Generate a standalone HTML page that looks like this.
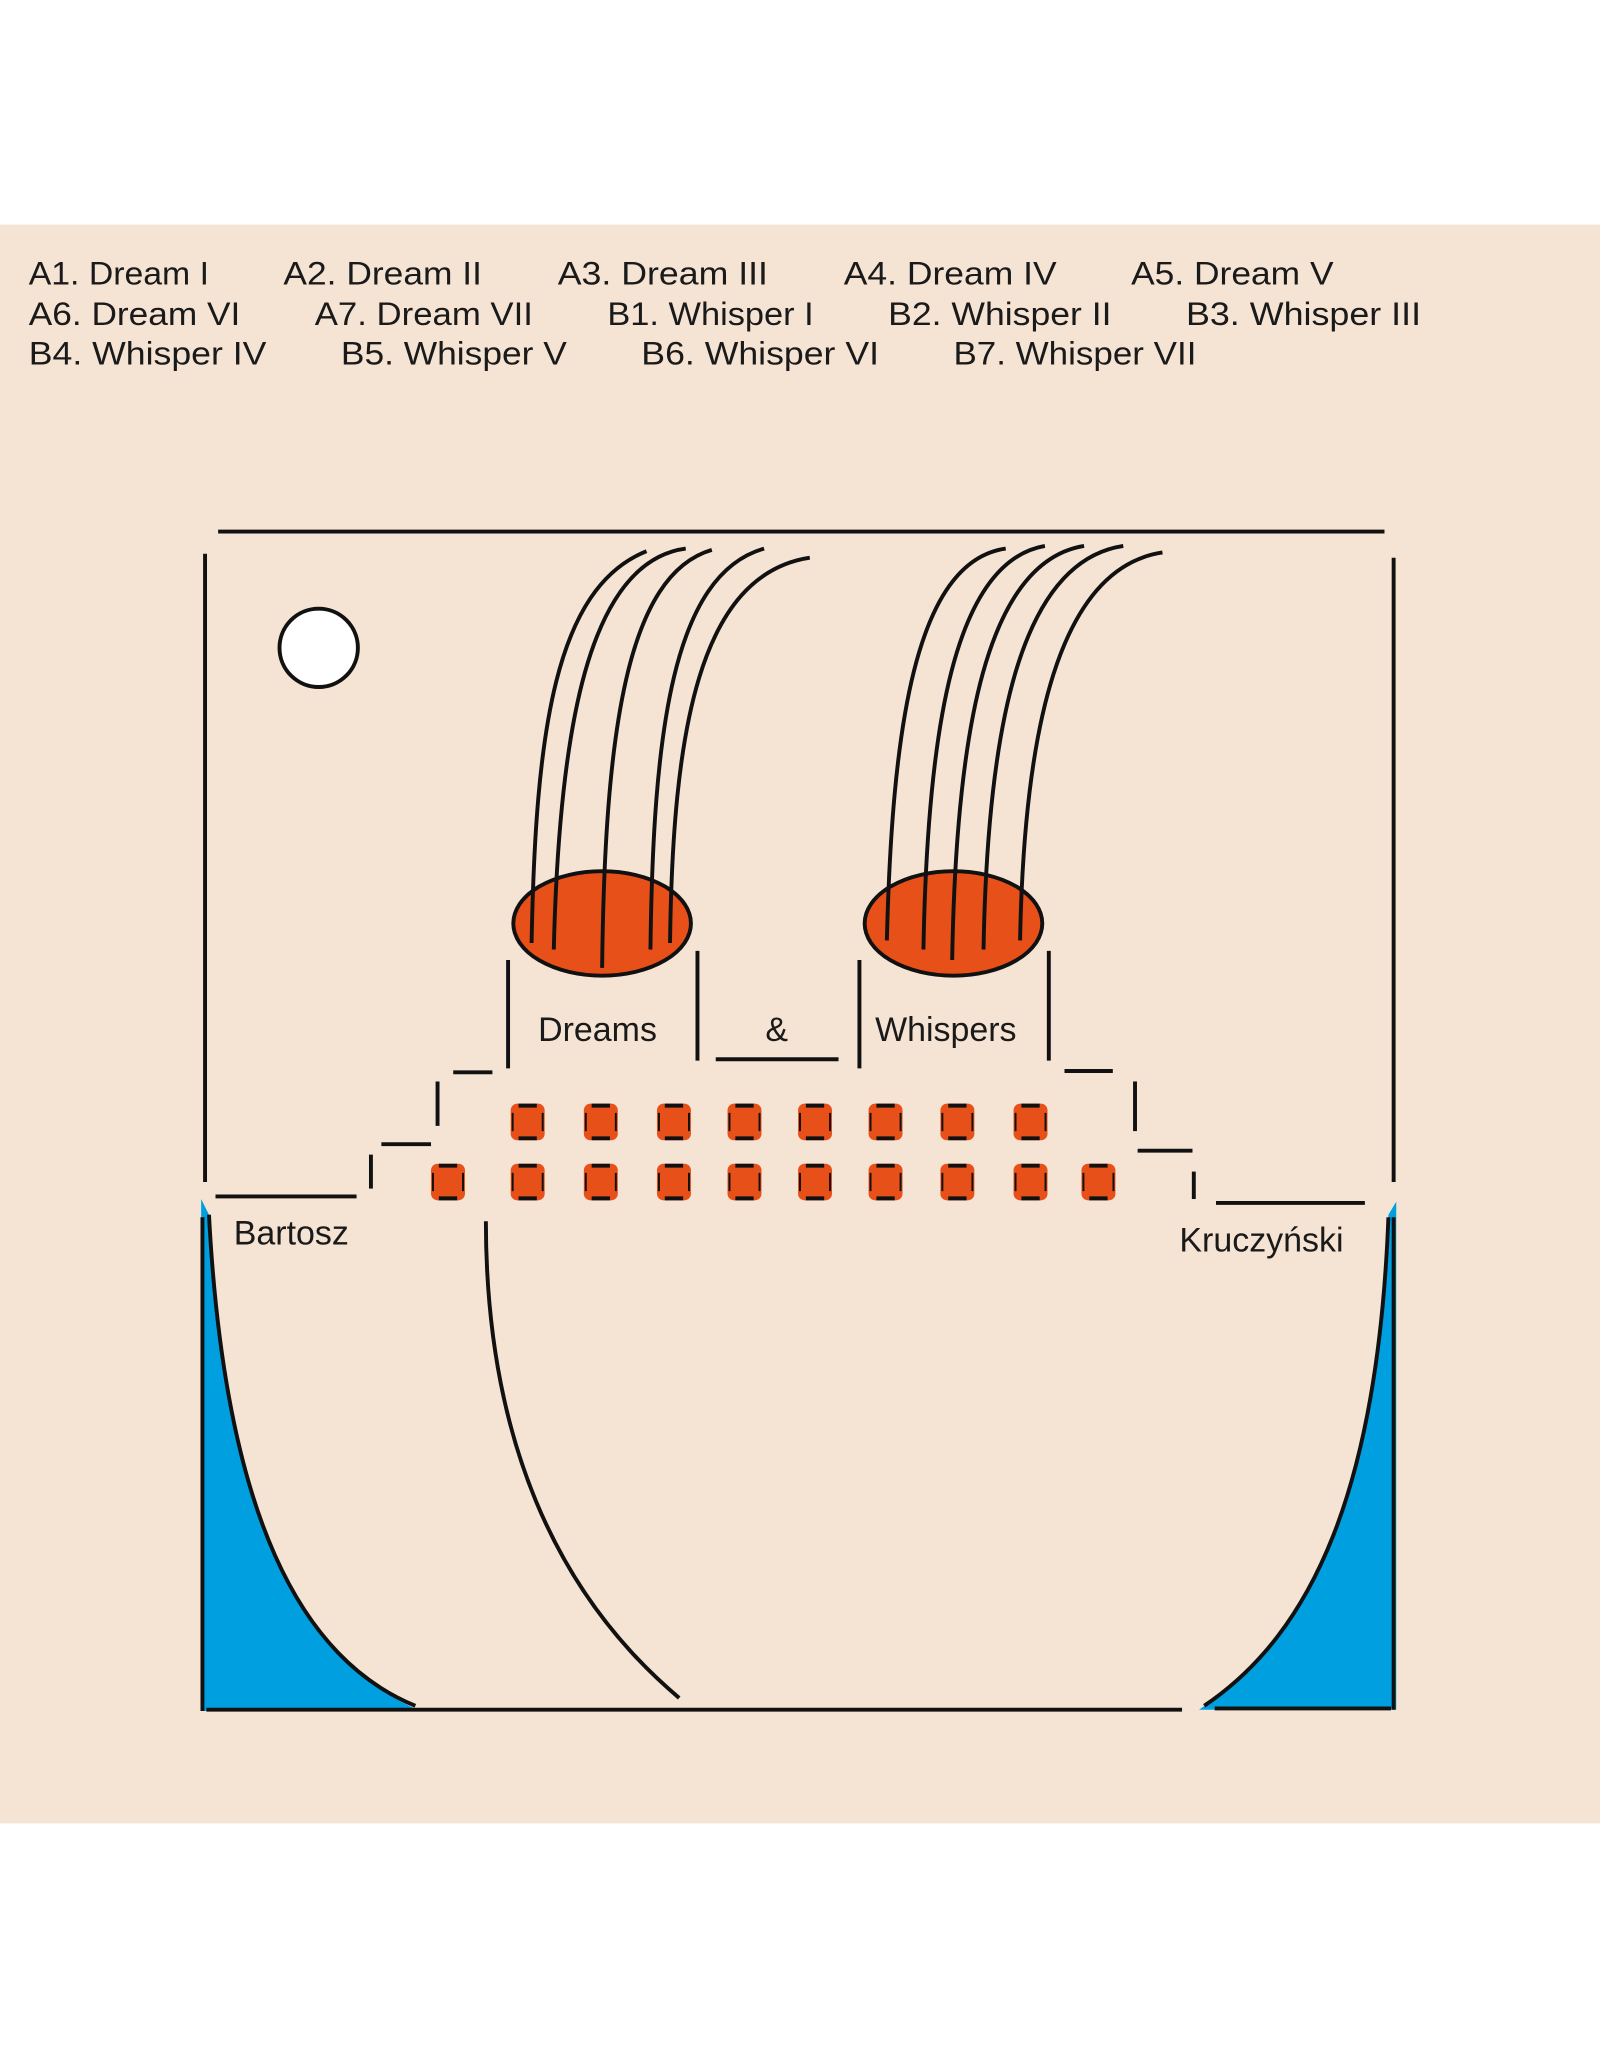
<!DOCTYPE html>
<html><head><meta charset="utf-8"><style>
html,body{margin:0;padding:0;background:#fff;}
svg{display:block;}
text{font-family:"Liberation Sans",sans-serif;fill:#1a1a1a;}
</style></head><body>
<svg width="1600" height="2048" viewBox="0 0 1225 1568" xmlns="http://www.w3.org/2000/svg">
<defs>
<g id="sq">
<rect x="0" y="0" width="26" height="28" rx="5" fill="#e8501a"/>
<path d="M6,1.5h14 M6,26.5h14" stroke="#111" stroke-width="3"/>
<path d="M1.5,7v14 M24.5,7v14" stroke="#111" stroke-width="1.5"/>
</g>
</defs>
<rect x="0" y="0" width="1225" height="1568" fill="#fff"/>
<rect x="0" y="172" width="1225" height="1224" fill="#f5e4d4"/>
<g font-size="25">
<text x="22" y="218" textLength="138" lengthAdjust="spacingAndGlyphs">A1. Dream I</text>
<text x="217" y="218" textLength="152" lengthAdjust="spacingAndGlyphs">A2. Dream II</text>
<text x="427" y="218" textLength="161" lengthAdjust="spacingAndGlyphs">A3. Dream III</text>
<text x="646" y="218" textLength="163" lengthAdjust="spacingAndGlyphs">A4. Dream IV</text>
<text x="866" y="218" textLength="155" lengthAdjust="spacingAndGlyphs">A5. Dream V</text>
<text x="22" y="249" textLength="162" lengthAdjust="spacingAndGlyphs">A6. Dream VI</text>
<text x="241" y="249" textLength="167" lengthAdjust="spacingAndGlyphs">A7. Dream VII</text>
<text x="465" y="249" textLength="158" lengthAdjust="spacingAndGlyphs">B1. Whisper I</text>
<text x="680" y="249" textLength="171" lengthAdjust="spacingAndGlyphs">B2. Whisper II</text>
<text x="908" y="249" textLength="180" lengthAdjust="spacingAndGlyphs">B3. Whisper III</text>
<text x="22" y="279" textLength="182" lengthAdjust="spacingAndGlyphs">B4. Whisper IV</text>
<text x="261" y="279" textLength="173" lengthAdjust="spacingAndGlyphs">B5. Whisper V</text>
<text x="491" y="279" textLength="182" lengthAdjust="spacingAndGlyphs">B6. Whisper VI</text>
<text x="730" y="279" textLength="186" lengthAdjust="spacingAndGlyphs">B7. Whisper VII</text>
</g>
<g stroke="#111" stroke-width="3" fill="none" stroke-linecap="butt">
<line x1="167" y1="407" x2="1060" y2="407"/>
<line x1="157" y1="424" x2="157" y2="905"/>
<line x1="1067" y1="427" x2="1067" y2="905"/>
<line x1="165" y1="916" x2="273" y2="916"/>
<line x1="284" y1="884" x2="284" y2="910"/>
<line x1="292" y1="876" x2="330" y2="876"/>
<line x1="335" y1="828" x2="335" y2="862"/>
<line x1="347" y1="821" x2="377" y2="821"/>
<line x1="389" y1="735" x2="389" y2="818"/>
<line x1="534" y1="728" x2="534" y2="812"/>
<line x1="548" y1="811" x2="642" y2="811"/>
<line x1="658" y1="735" x2="658" y2="818"/>
<line x1="803" y1="728" x2="803" y2="812"/>
<line x1="815" y1="820" x2="852" y2="820"/>
<line x1="869" y1="828" x2="869" y2="866"/>
<line x1="871" y1="881" x2="913" y2="881"/>
<line x1="914" y1="897" x2="914" y2="918"/>
<line x1="931" y1="921" x2="1045" y2="921"/>
</g>
<circle cx="244" cy="496" r="30" fill="#fff" stroke="#111" stroke-width="3"/>
<path d="M154,918 L154,1310 L322,1310 C230,1270 172,1160 160,930 Z" fill="#009fe0"/>
<path d="M1069,920 L1069,1309 L918,1309 C1005,1250 1055,1140 1063,930 Z" fill="#009fe0"/>
<g stroke="#111" stroke-width="3" fill="none">
<line x1="155" y1="932" x2="155" y2="1310"/>
<line x1="1067" y1="932" x2="1067" y2="1309"/>
<path d="M160,930 C172,1160 230,1270 318,1306"/>
<path d="M1063,932 C1055,1140 1005,1250 922,1306"/>
<line x1="158" y1="1309" x2="905" y2="1309"/>
<line x1="930" y1="1308" x2="1065" y2="1308"/>
<path d="M372,935 C372,1100 425,1220 520,1300"/>
</g>
<ellipse cx="461" cy="707" rx="68" ry="40" fill="#e8501a" stroke="#111" stroke-width="3"/>
<ellipse cx="730" cy="707" rx="68" ry="40" fill="#e8501a" stroke="#111" stroke-width="3"/>
<g stroke="#111" stroke-width="3" fill="none">
<path d="M407,722 C410,560 425,450 495,422"/>
<path d="M424,727 C428,560 450,430 525,420"/>
<path d="M461,741 C463,560 480,440 545,421"/>
<path d="M498,727 C500,560 515,440 585,420"/>
<path d="M513,722 C515,560 535,440 620,427"/>
<path d="M679,720 C683,560 700,430 770,420"/>
<path d="M707,727 C710,560 730,430 800,418"/>
<path d="M729,735 C732,560 755,430 830,418"/>
<path d="M753,727 C756,560 780,430 860,418"/>
<path d="M781,720 C784,560 810,435 890,423"/>
</g>
<use href="#sq" x="391" y="845"/><use href="#sq" x="447" y="845"/><use href="#sq" x="503" y="845"/><use href="#sq" x="557" y="845"/><use href="#sq" x="611" y="845"/><use href="#sq" x="665" y="845"/><use href="#sq" x="720" y="845"/><use href="#sq" x="776" y="845"/>
<use href="#sq" x="330" y="891"/><use href="#sq" x="391" y="891"/><use href="#sq" x="447" y="891"/><use href="#sq" x="503" y="891"/><use href="#sq" x="557" y="891"/><use href="#sq" x="611" y="891"/><use href="#sq" x="665" y="891"/><use href="#sq" x="720" y="891"/><use href="#sq" x="776" y="891"/><use href="#sq" x="828" y="891"/>
<g font-size="26">
<text x="412" y="797">Dreams</text>
<text x="586" y="797">&amp;</text>
<text x="670" y="797">Whispers</text>
<text x="179" y="953">Bartosz</text>
<text x="903" y="958">Kruczyński</text>
</g>
</svg>
</body></html>
